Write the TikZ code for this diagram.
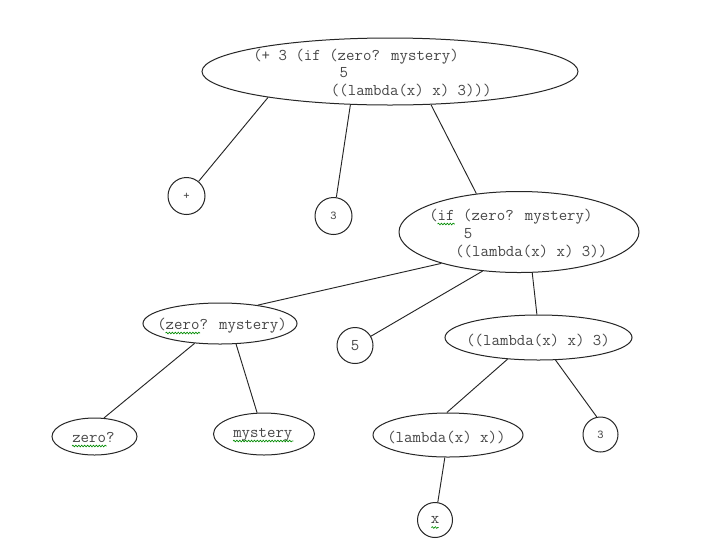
\documentclass[tikz,border=0pt]{standalone}
\usepackage{fontspec}
\usetikzlibrary{shapes.geometric,decorations.pathmorphing}
\tikzset{
  edge/.style={draw=black!85, line width=0.7pt},
  ell/.style={ellipse, draw=black!85, line width=0.75pt, inner sep=0pt},
  circ/.style={circle, draw=black!85, line width=0.75pt, inner sep=0pt},
  code/.style={text=black!72, font=\ttfamily\fontsize{12.3}{14}\selectfont, inner sep=0pt},
  smallcode/.style={text=black!72, font=\ttfamily\fontsize{9}{10}\selectfont, inner sep=0pt},
  squig/.style={draw=green!55!black, line width=0.5pt, decorate,
    decoration={snake, amplitude=0.6pt, segment length=2.2pt}}
}
\begin{document}
\begin{tikzpicture}[x=0.75pt,y=-0.75pt]
\fill[white] (0,0) rectangle (720,540);
\useasboundingbox (0,0) rectangle (720,540);

% ---- shapes ----
\node[ell, minimum width=282pt, minimum height=50.25pt] (top) at (390,71.5) {};
\node[ell, minimum width=180pt, minimum height=60.75pt] (mid) at (519,232) {};
\node[ell, minimum width=115.5pt, minimum height=30.75pt] (zm) at (220,323.5) {};
\node[ell, minimum width=140.25pt, minimum height=33.75pt] (app) at (538.5,337.5) {};
\node[ell, minimum width=63.75pt, minimum height=27.75pt] (zeroq) at (94.5,436.5) {};
\node[ell, minimum width=75.75pt, minimum height=31.5pt] (myst) at (264,434) {};
\node[ell, minimum width=112.5pt, minimum height=33pt] (lam) at (448,435) {};

\node[circ, minimum size=27.75pt, smallcode] (plus) at (186.5,196) {+};
\node[circ, minimum size=27.75pt, smallcode] (three1) at (333.5,216) {3};
\node[circ, minimum size=27pt, code] (five) at (355,345.5) {5};
\node[circ, minimum size=26.25pt, smallcode] (three2) at (600.5,434.5) {3};
\node[circ, minimum size=26.25pt, code] (xnode) at (435,520) {x};

% ---- texts ----
\node[code, anchor=base west] (topA) at (253,60.5) {(+ 3 (if (zero? mystery)};
\node[code, anchor=base west] (topB) at (339.3,77.5) {5};
\node[code, anchor=base west] (topC) at (330.7,95.5) {((lambda(x) x) 3)))};

\node[code, anchor=base west] (midA) at (429,220.5) {(if (zero? mystery)};
\node[code, anchor=base west] (midB) at (463.5,238.5) {5};
\node[code, anchor=base west] (midC) at (455,256.5) {((lambda(x) x) 3))};

\node[code, anchor=base west] (zmt) at (157,329.5) {(zero? mystery)};
\node[code, anchor=base west] (appt) at (466,345) {((lambda(x) x) 3)};
\node[code, anchor=base west] (zeroqt) at (72,442.5) {zero?};
\node[code, anchor=base west] (mystt) at (233,437.5) {mystery};
\node[code, anchor=base west] (lamt) at (387,442.5) {(lambda(x) x))};

% ---- spell-check squiggles ----
\draw[squig] ([shift={(8.6,3.5)}]midA.base west) -- ++(17.3,0);
\draw[squig] ([shift={(8.6,3.5)}]zmt.base west) -- ++(34.5,0);
\draw[squig] ([shift={(0,3.5)}]zeroqt.base west) -- ++(34.5,0);
\draw[squig] ([shift={(0,3.5)}]mystt.base west) -- ++(60.4,0);
\draw[squig] ([shift={(-3.6,7.5)}]xnode.center) -- ++(7.2,0);

% ---- connectors ----
\draw[edge] (top.192) -- (plus);
\draw[edge] (top.220) -- (three1);
\draw[edge] (top.321) -- (mid.138);
\draw[edge] (mid.202) -- (zm.26);
\draw[edge] (mid.227) -- (five);
\draw[edge] (mid.288) -- (app.94);
\draw[edge] (zm.218) -- (zeroq.63);
\draw[edge] (zm.308) -- (myst.108);
\draw[edge] (app.215) -- (lam.93);
\draw[edge] (app.307) -- (three2.102);
\draw[edge] (lam.262) -- (xnode);
\end{tikzpicture}
\end{document}
